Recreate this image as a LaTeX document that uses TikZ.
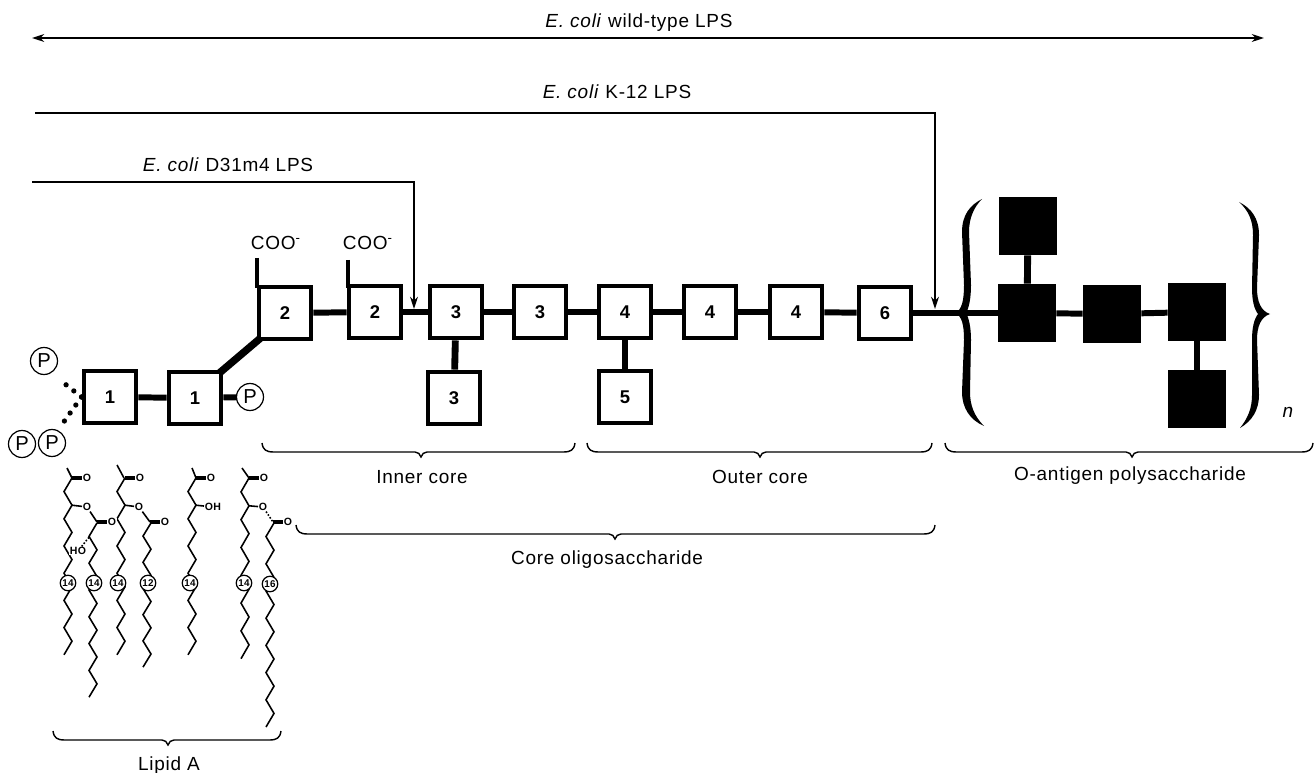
\documentclass[tikz,border=0pt]{standalone}
\usepackage{fontspec}
\setmainfont[LetterSpace=4]{Liberation Sans}
\usetikzlibrary{arrows.meta}
\tikzset{
  sugar/.style={draw,line width=2.8pt,fill=white,minimum size=1.04cm,inner sep=0pt,font=\fontsize{10.5}{12}\selectfont\bfseries},
  osugar/.style={fill=black,minimum size=1.16cm,inner sep=0pt},
  link/.style={line width=3.4pt},
  sidelink/.style={line width=3.9pt},
  phos/.style={draw,circle,line width=0.7pt,fill=white,minimum size=0.54cm,inner sep=0pt,font=\fontsize{11.5}{12}\selectfont},
  dots/.style={line width=3pt,line cap=round,dash pattern=on 0pt off 5.6pt},
  lipid/.style={line width=0.9pt},
  carbon/.style={draw,circle,line width=0.7pt,fill=white,minimum size=0.31cm,inner sep=0pt,font=\fontsize{5.6}{6}\selectfont\bfseries},
  atom/.style={inner sep=0.3pt,fill=white,font=\fontsize{6}{6}\selectfont\bfseries},
  label/.style={font=\fontsize{10.8}{12}\selectfont},
  feed/.style={line width=0.9pt,-{Stealth[length=7pt,width=4.5pt]}},
  thinbrace/.style={line width=0.8pt}
}
% one acyl tail, zigzag going down from its carbonyl
\newcommand{\acyltail}[4]{\draw[lipid] ({#1+8},#2) \foreach \i in {1,...,#3} { -- ({#1+8*(1-mod(\i,2))},{#2+\i*#4}) };}
\newcommand{\carbonyl}[3]{
\draw[lipid] (#1,{#2-1.2}) -- ({#1+10},{#2-1.2});
\draw[lipid] (#1,{#2+1.2}) -- ({#1+10},{#2+1.2});
\node[atom] (#3) at ({#1+15},#2) {O};
}
% flat brace opening upwards: left, right, tip x, top y
\newcommand{\flatbrace}[4]{\draw[thinbrace] (#1,#4) .. controls ({#1+1},{#4+7}) and ({#1+4},{#4+9}) .. ({#1+12},{#4+9})
-- ({#3-6},{#4+9}) .. controls ({#3-3},{#4+9}) and ({#3-1},{#4+11}) .. (#3,{#4+14})
.. controls ({#3+1},{#4+11}) and ({#3+3},{#4+9}) .. ({#3+6},{#4+9})
-- ({#2-12},{#4+9}) .. controls ({#2-4},{#4+9}) and ({#2-1},{#4+7}) .. (#2,#4);}
\begin{document}
\begin{tikzpicture}[x=0.02cm,y=-0.02cm]
\useasboundingbox (0,0) rectangle (1314,773);

% top labels and arrows
\node[label] (wildlabel) at (639,23) {\textit{E. coli} wild-type LPS};
\node[label] (k12label) at (617,92) {\textit{E. coli} K-12 LPS};
\node[label] (d31label) at (228,165) {\textit{E. coli} D31m4 LPS};
\coordinate (wildl) at (32,38);
\coordinate (wildr) at (1264,38);
\coordinate (k12start) at (35,113);
\coordinate (k12end) at (935,309);
\coordinate (d31start) at (32,182);
\coordinate (d31end) at (414,309);
\draw[line width=0.9pt,{Stealth[length=7pt,width=4.5pt]}-{Stealth[length=7pt,width=4.5pt]}] (wildl) -- (wildr);
\draw[feed] (k12start) -| (k12end);
\draw[feed] (d31start) -| (d31end);

% core sugars
\node[sugar] (lipa) at (110,397) {1};
\node[sugar] (lipb) at (195,398) {1};
\node[sugar] (kdoa) at (285,313) {2};
\node[sugar] (kdob) at (375,312) {2};
\node[sugar] (hepa) at (456,312) {3};
\node[sugar] (hepb) at (540,312) {3};
\node[sugar] (hepc) at (454,398) {3};
\node[sugar] (glca) at (625,312) {4};
\node[sugar] (glcb) at (710,312) {4};
\node[sugar] (glcc) at (796,312) {4};
\node[sugar] (galb) at (625,397) {5};
\node[sugar] (hexs) at (885,313) {6};

% O-antigen sugars
\node[osugar] (oatop) at (1028,226) {};
\node[osugar] (oaa) at (1027,313) {};
\node[osugar] (oab) at (1112,314) {};
\node[osugar] (oac) at (1197,312) {};
\node[osugar] (oalow) at (1197,399) {};

\draw[link] (lipa) -- (lipb);
\draw[line width=4.2pt,shorten <=-3pt,shorten >=-3pt] (lipb.north east) -- (kdoa.south west);
\draw[link] (kdoa) -- (kdob);
\draw[link] (kdob) -- (hepa);
\draw[link] (hepa) -- (hepb);
\draw[link] (hepb) -- (glca);
\draw[link] (glca) -- (glcb);
\draw[link] (glcb) -- (glcc);
\draw[link] (glcc) -- (hexs);
\draw[link] (hexs) -- (oaa);
\draw[link] (oaa) -- (oab);
\draw[link] (oab) -- (oac);
\draw[sidelink] (hepa) -- (hepc);
\draw[sidelink] (glca) -- (galb);
\draw[sidelink] (oatop) -- (oaa);
\draw[sidelink] (oac) -- (oalow);

% carboxyl groups
\node[label] (cooa) at (276,243) {COO\textsuperscript{-}};
\node[label] (coob) at (368,243) {COO\textsuperscript{-}};
\draw[line width=2.4pt] (257,258) -- (257,288);
\draw[line width=2.4pt] (348,260) -- (348,288);

% phosphates
\node[phos] (pa) at (44,361) {P};
\node[phos] (pb) at (22,444) {P};
\node[phos] (pc) at (52,443) {P};
\node[phos] (pd) at (250,397) {P};
\draw[link] (lipb) -- (pd);
\draw[dots] (lipa.west) -- ([xshift=0.32cm,yshift=-0.38cm]pa.center);
\draw[dots] (lipa.west) -- ([xshift=0.22cm,yshift=0.4cm]pc.center);

% repeat brackets
\fill (982,199) .. controls (970,205) and (962,215) .. (962,232) -- (964,285)
.. controls (964,300) and (962,310) .. (955,313) .. controls (962,316) and (964,325) .. (964,340)
-- (962,392) .. controls (962,408) and (970,420) .. (984,426)
.. controls (974,416) and (970,405) .. (970,392) -- (971,340) .. controls (971,328) and (969,318) .. (966,313)
.. controls (969,308) and (971,298) .. (971,285) -- (969,232) .. controls (969,218) and (974,207) .. cycle;
\fill (1239,202) .. controls (1251,208) and (1259,218) .. (1259,235) -- (1257,288)
.. controls (1257,302) and (1261,311) .. (1270,314) .. controls (1261,317) and (1257,326) .. (1257,340)
-- (1259,395) .. controls (1259,410) and (1252,421) .. (1240,428)
.. controls (1248,418) and (1252,408) .. (1252,395) -- (1252,340) .. controls (1252,328) and (1254,319) .. (1258,314)
.. controls (1254,309) and (1252,300) .. (1252,288) -- (1253,235) .. controls (1253,220) and (1248,210) .. cycle;
\node[font=\fontsize{10.8}{12}\selectfont\itshape] (rep) at (1288,412) {n};

% region braces
\flatbrace{262}{575}{421}{443}
\flatbrace{587}{932}{760}{443}
\flatbrace{945}{1313}{1132}{443}
\flatbrace{296}{935}{615}{525}
\flatbrace{53}{281}{168}{731}
\node[label] (innerlabel) at (422,477) {Inner core};
\node[label] (outerlabel) at (760,477) {Outer core};
\node[label] (oantlabel) at (1130,476) {O-antigen polysaccharide};
\node[label] (corelabel) at (607,560) {Core oligosaccharide};
\node[label] (lipidlabel) at (169,766) {Lipid A};

% lipid A tails
\draw[lipid] (67,468) -- (72,478);
\draw[lipid] (117,465) -- (124,478);
\draw[lipid] (192,468) -- (196,478);
\draw[lipid] (242,468) -- (249,478);
\acyltail{64}{478}{13}{13.6}
\acyltail{89}{523}{13}{13.4}
\acyltail{117}{478}{13}{13.6}
\acyltail{143}{523}{11}{13.1}
\acyltail{188}{478}{13}{13.6}
\acyltail{241}{478}{13}{13.9}
\acyltail{266}{523}{15}{13.6}
\carbonyl{72}{478}{oaone}
\carbonyl{125}{478}{obone}
\carbonyl{196}{478}{ocone}
\carbonyl{249}{478}{odone}
\carbonyl{97}{522}{oatwo}
\carbonyl{150}{522}{obtwo}
\carbonyl{273}{522}{odtwo}
\node[atom] (oaest) at (87,507) {O};
\node[atom] (obest) at (139,507) {O};
\node[atom] (ocoh) at (213,507) {OH};
\node[atom] (odest) at (263,507) {O};
\node[atom] (oahy) at (78,551) {HO};
\draw[lipid] (72,505.2) -- (oaest);
\draw[lipid] (oaest) -- (97,522);
\draw[lipid] (125,505.2) -- (obest);
\draw[lipid] (obest) -- (150,522);
\draw[lipid] (196,505.2) -- (ocoh);
\draw[lipid] (249,505.8) -- (odest);
\draw[lipid,densely dotted] (odest) -- (273,522);
\draw[lipid,densely dotted] (oahy) -- (90,536);
\node[carbon] (ca) at (68,583) {14};
\node[carbon] (cb) at (94,583) {14};
\node[carbon] (cc) at (118,583) {14};
\node[carbon] (cd) at (148,583) {12};
\node[carbon] (ce) at (190,583) {14};
\node[carbon] (cf) at (244,583) {14};
\node[carbon] (cg) at (270,584) {16};
\end{tikzpicture}
\end{document}
